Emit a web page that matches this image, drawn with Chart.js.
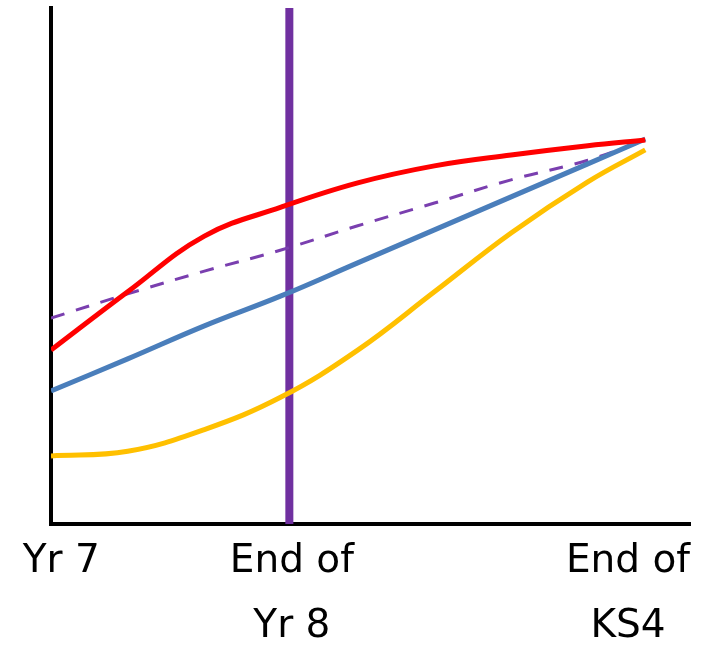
<!DOCTYPE html>
<html>
<head>
<meta charset="utf-8">
<script src="https://cdn.jsdelivr.net/npm/chart.js@4"></script>
<style>
  html, body { margin: 0; padding: 0; background: #fff; }
  #wrap { width: 702px; height: 648px; }
</style>
</head>
<body>
<div id="wrap"><canvas id="c"></canvas></div>
<script>
// x positions along the course (0 = Yr 7, 9.3 = end of KS4)
const xs = [0, 1.2, 2.4, 3.6, 4.8, 6, 7.2, 8.4, 9.3];

// progress curves
const redVals    = [33.7, 45.0, 55.8, 61.4, 66.1, 69.4, 71.5, 73.3, 74.4];
const blueVals   = [25.8, 32.0, 38.4, 44.2, 50.6, 57.0, 63.4, 69.8, 74.6];
const yellowVals = [13.2, 14.1, 18.3, 24.6, 33.7, 45.0, 56.4, 66.3, 72.5];
const dashVals   = [39.9, 44.6, 49.0, 53.1, 57.8, 62.2, 66.7, 70.5, 74.4];

// vertical marker at end of Yr 8
const markerX = 3.73;
const markerY = [0, 100];

// x-axis labels and where they sit
const tickPos = [0.16, 3.77, 9.03];
const tickLabels = [["Yr 7", ""], ["End of", "Yr 8"], ["End of", "KS4"]];

const pts = (vals) => vals.map((v, i) => ({ x: xs[i], y: v }));

const curve = (vals, color) => ({
  data: pts(vals),
  borderColor: color,
  borderWidth: 5,
  pointRadius: 0,
  fill: false,
  tension: 0.4,
});

const data = {
  datasets: [
    curve(redVals, "#FF0000"),
    curve(blueVals, "#4A7EBB"),
    curve(yellowVals, "#FFC000"),
    {
      data: pts(dashVals),
      borderColor: "#7A3FAF",
      borderWidth: 3,
      borderDash: [14, 12],
      pointRadius: 0,
      fill: false,
      tension: 0.4,
    },
    {
      data: markerY.map((y) => ({ x: markerX, y: y })),
      borderColor: "#7030A0",
      borderWidth: 8,
      pointRadius: 0,
      fill: false,
    },
  ],
};

new Chart(document.getElementById("c"), {
  type: "line",
  data: data,
  options: {
    responsive: true,
    maintainAspectRatio: false,
    animation: false,
    layout: { padding: { left: 51, top: 8, right: 12, bottom: 0 } },
    plugins: { legend: { display: false }, tooltip: { enabled: false } },
    scales: {
      x: {
        type: "linear",
        min: 0,
        max: 10,
        grid: { display: false },
        border: { display: true, color: "#000", width: 4 },
        afterBuildTicks: (scale) => {
          scale.ticks = tickPos.map((v) => ({ value: v }));
        },
        afterFit: (scale) => { scale.height = 124; },
        ticks: {
          autoSkip: false,
          maxRotation: 0,
          padding: -2,
          color: "#000",
          font: { family: "DejaVu Sans", size: 39, lineHeight: 1.65 },
          callback: (value, index) => tickLabels[index],
        },
      },
      y: {
        type: "linear",
        min: 0,
        max: 100,
        grid: { display: false },
        border: { display: true, color: "#000", width: 4 },
        ticks: { display: false },
        afterFit: (scale) => { scale.width = 0; },
      },
    },
  },
});
</script>
</body>
</html>
